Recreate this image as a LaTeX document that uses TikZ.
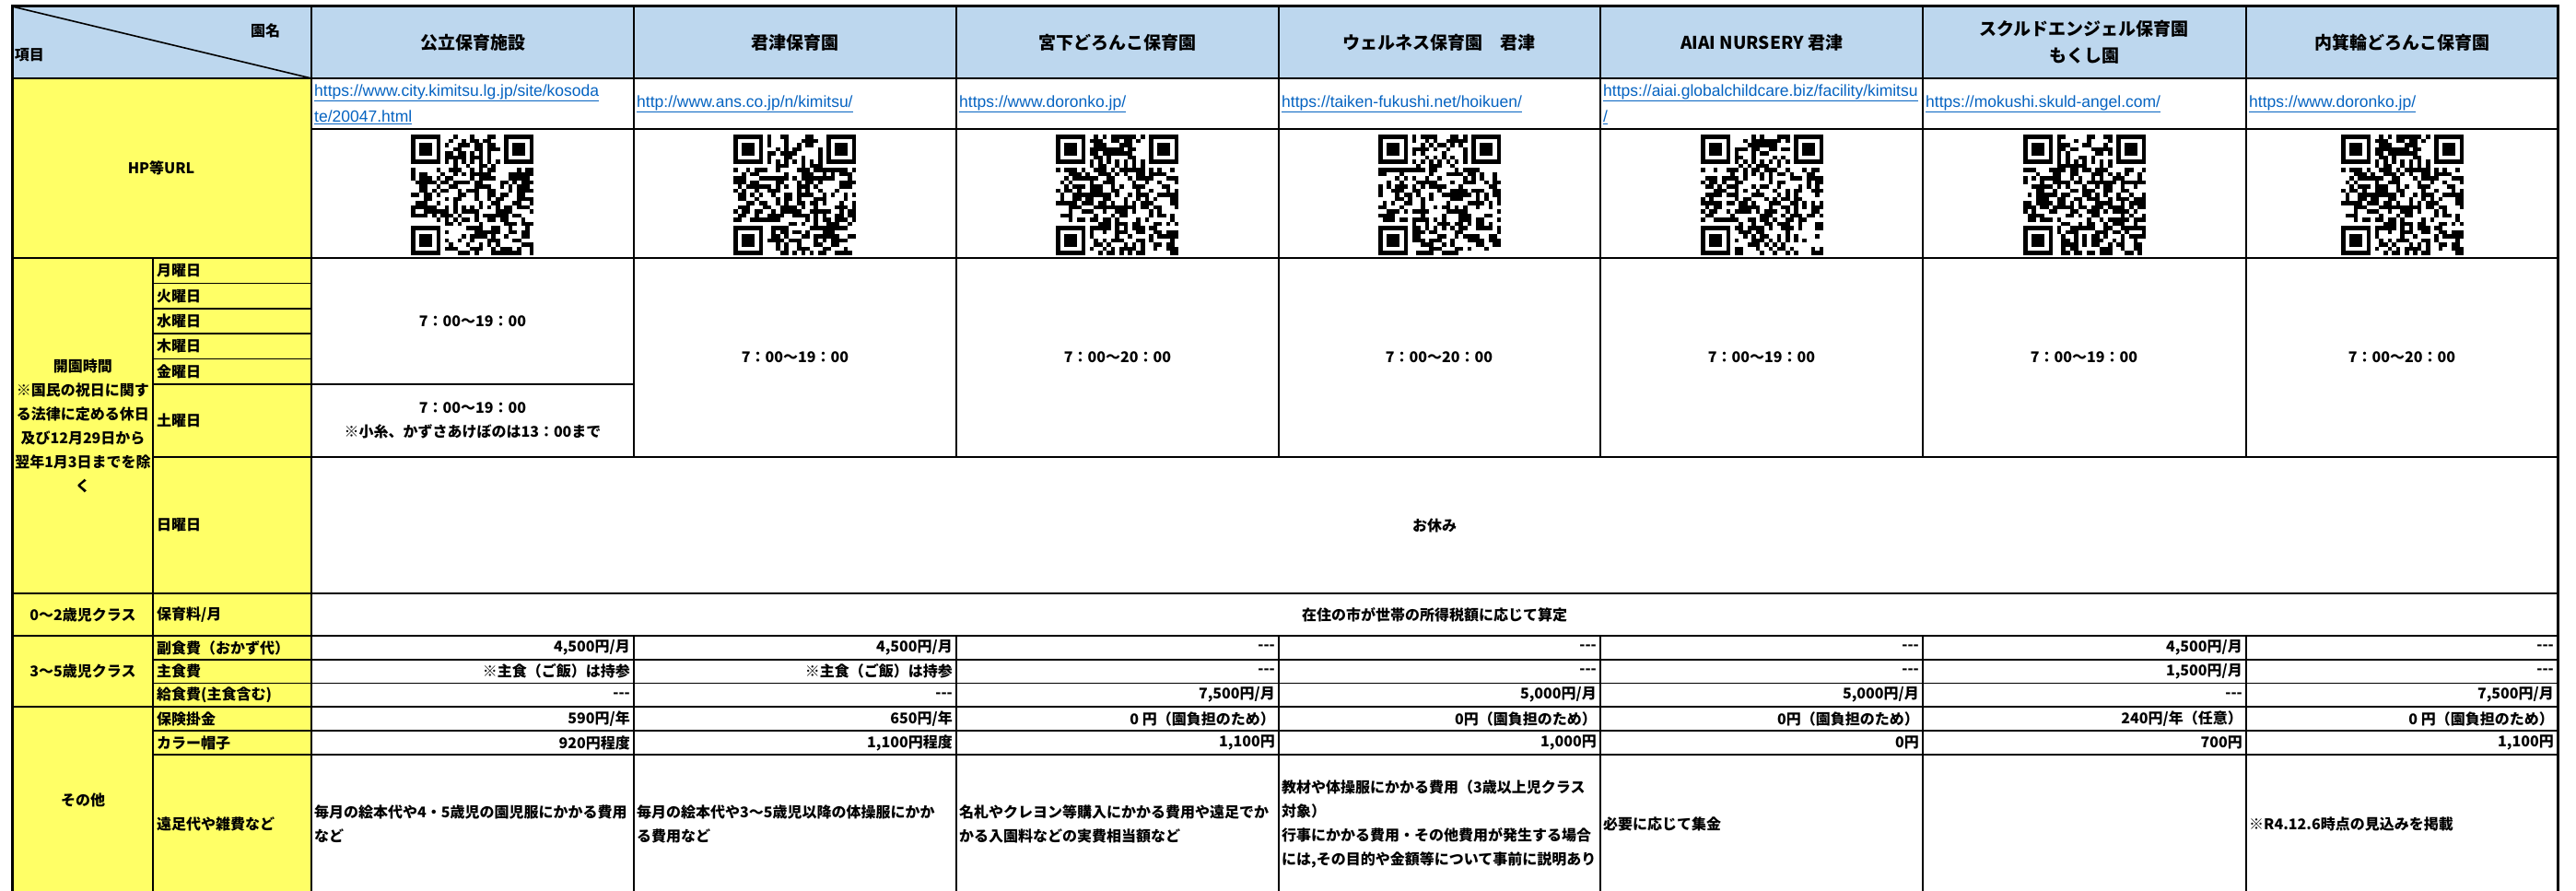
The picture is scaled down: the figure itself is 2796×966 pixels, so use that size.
\documentclass[tikz,border=0pt]{standalone}
\usepackage{fontspec}
\setmainfont{Noto Sans CJK JP}
\newfontfamily\jp{Noto Sans CJK JP}
\newfontfamily\linkfont{Liberation Sans}
\usepackage{xcolor}
\usepackage{tikz}

% QR-like block, 29 x 29 modules, top left corner at #1, pattern from seed #2
\newcommand\qrblock[2]{%
  \begin{scope}[shift={#1}, x=4.6pt, y=-4.5pt]
    \pgfmathsetseed{#2}
    \foreach \i in {0,...,28} {
      \foreach \j in {0,...,28} {
        \pgfmathtruncatemacro\qrskip{and(\i<8,\j<8)+and(\i>20,\j<8)+and(\i<8,\j>20)+(\i==6)+(\j==6)}
        \ifnum\qrskip=0
          \pgfmathrandominteger{\qrbit}{0}{1}
          \ifnum\qrbit=1 \fill (\i,\j) rectangle ++(1,1); \fi
        \fi
      }
    }
    \foreach \k in {8,10,...,20} {
      \fill (\k,6) rectangle ++(1,1);
      \fill (6,\k) rectangle ++(1,1);
    }
    \foreach \cx/\cy in {0/0, 22/0, 0/22} {
      \fill (\cx,\cy) rectangle ++(7,7);
      \fill[white] (\cx+1,\cy+1) rectangle ++(5,5);
      \fill (\cx+2,\cy+2) rectangle ++(3,3);
    }
  \end{scope}}

\begin{document}
\begin{tikzpicture}[
    x=1pt, y=-1pt,
    grid/.style={line width=1.6pt},
    frame/.style={line width=3pt},
    hd/.style={font=\jp\bfseries\fontsize{19}{29}\selectfont, align=center, inner sep=0pt},
    grp/.style={font=\jp\bfseries\fontsize{16}{26}\selectfont, align=center, inner sep=0pt},
    lbl/.style={font=\jp\bfseries\fontsize{16}{26}\selectfont, anchor=west, inner sep=0pt},
    fee/.style={font=\jp\bfseries\fontsize{16}{26}\selectfont, anchor=east, inner sep=0pt},
    memo/.style={font=\jp\bfseries\fontsize{16}{26}\selectfont, anchor=west, align=left, inner sep=0pt},
    link/.style={font=\linkfont\fontsize{17.5}{28}\selectfont, text=linkblue, anchor=west, align=left, inner sep=0pt},
]

% ── Colors ──
\definecolor{headfill}{HTML}{BDD7EE}
\definecolor{itemfill}{HTML}{FFFF66}
\definecolor{linkblue}{HTML}{0563C1}

\useasboundingbox (0,0) rectangle (2796,966);

% ══════════════════════════════════════════════
% Cell fills
% ══════════════════════════════════════════════
\fill[headfill] (13,7) rectangle (2776,85);
\fill[itemfill] (13,85) rectangle (338,975);

% ══════════════════════════════════════════════
% ROW 1: Nursery names
% ══════════════════════════════════════════════
\node[grp] (corner1) at (288,33) {園名};
\node[grp] (corner2) at (32,60) {項目};
\foreach \cx/\name [count=\c] in {513/公立保育施設, 863/君津保育園, 1213/宮下どろんこ保育園,
    1562/ウェルネス保育園　君津, 1912/AIAI NURSERY 君津,
    2262/{スクルドエンジェル保育園\\もくし園}, 2607/内箕輪どろんこ保育園}
  \node[hd] (hd\c) at (\cx,46) {\name};

% ══════════════════════════════════════════════
% ROW 2: Home pages and QR codes
% ══════════════════════════════════════════════
\node[grp] (hp) at (175,182) {HP等URL};
\node[link] (url1) at (341,113) {\underline{https://www.city.kimitsu.lg.jp/site/kosoda}\\\underline{te/20047.html}};
\node[link] (url2) at (691,113) {\underline{http://www.ans.co.jp/n/kimitsu/}};
\node[link] (url3) at (1041,113) {\underline{https://www.doronko.jp/}};
\node[link] (url4) at (1391,113) {\underline{https://taiken-fukushi.net/hoikuen/}};
\node[link] (url5) at (1740,113) {\underline{https://aiai.globalchildcare.biz/facility/kimitsu}\\\underline{/}};
\node[link] (url6) at (2090,113) {\underline{https://mokushi.skuld-angel.com/}};
\node[link] (url7) at (2441,113) {\underline{https://www.doronko.jp/}};

\qrblock{(446,146)}{11}
\qrblock{(796,146)}{23}
\qrblock{(1146,146)}{37}
\qrblock{(1496,146)}{41}
\qrblock{(1846,146)}{53}
\qrblock{(2196,146)}{67}
\qrblock{(2541,146)}{37}

% ══════════════════════════════════════════════
% ROW 3: Opening hours
% ══════════════════════════════════════════════
\node[grp] (open) at (90,462) {開園時間\\※国民の祝日に関す\\る法律に定める休日\\及び12月29日から\\翌年1月3日までを除\\く};
\foreach \y/\t [count=\c] in {293.7/月曜日, 321.1/火曜日, 348.5/水曜日, 375.9/木曜日,
    403.3/金曜日, 456.5/土曜日, 570/日曜日}
  \node[lbl] (day\c) at (170,\y) {\t};

\node[grp] (hr1) at (513,349) {7：00～19：00};
\node[grp] (sat1) at (513,456.5) {7：00～19：00\\※小糸、かずさあけぼのは13：00まで};
\foreach \cx/\t [count=\c from 2] in {863/19, 1213/20, 1562/20, 1912/19, 2262/19, 2607/20}
  \node[grp] (hr\c) at (\cx,388) {7：00～\t：00};
\node[grp] (sun) at (1557,570) {お休み};

% ══════════════════════════════════════════════
% ROW 4: Fees
% ══════════════════════════════════════════════
\node[grp] (age02) at (90,667) {0～2歳児クラス};
\node[lbl] (fee02) at (170,667) {保育料/月};
\node[grp] (tax) at (1557,667) {在住の市が世帯の所得税額に応じて算定};

\node[grp] (age35) at (90,728.5) {3～5歳児クラス};
\node[lbl] (side) at (170,703) {副食費（おかず代）};
\node[lbl] (rice) at (170,728.7) {主食費};
\node[lbl] (meal) at (170,754.3) {給食費(主食含む)};

\foreach \rx/\v [count=\c] in {688/{4,500円/月}, 1038/{4,500円/月}, 1388/---, 1737/---,
    2087/---, 2438/{4,500円/月}, 2776/---}
  \node[fee] (side\c) at (\rx-4,703) {\v};
\foreach \rx/\v [count=\c] in {688/※主食（ご飯）は持参, 1038/※主食（ご飯）は持参, 1388/---,
    1737/---, 2087/---, 2438/{1,500円/月}, 2776/---}
  \node[fee] (rice\c) at (\rx-4,728.7) {\v};
\foreach \rx/\v [count=\c] in {688/---, 1038/---, 1388/{7,500円/月}, 1737/{5,000円/月},
    2087/{5,000円/月}, 2438/---, 2776/{7,500円/月}}
  \node[fee] (meal\c) at (\rx-4,754.3) {\v};

% ══════════════════════════════════════════════
% ROW 5: Other costs
% ══════════════════════════════════════════════
\node[grp] (misc) at (90,868) {その他};
\node[lbl] (ins) at (170,780) {保険掛金};
\node[lbl] (cap) at (170,806) {カラー帽子};
\node[lbl] (trip) at (170,894) {遠足代や雑費など};

\foreach \rx/\v [count=\c] in {688/{590円/年}, 1038/{650円/年}, 1388/0 円（園負担のため）,
    1737/0円（園負担のため）, 2087/0円（園負担のため）, 2438/{240円/年（任意）},
    2776/0 円（園負担のため）}
  \node[fee] (ins\c) at (\rx-4,780) {\v};
\foreach \rx/\v [count=\c] in {688/920円程度, 1038/{1,100円程度}, 1388/{1,100円},
    1737/{1,000円}, 2087/0円, 2438/700円, 2776/{1,100円}}
  \node[fee] (cap\c) at (\rx-4,806) {\v};

\node[memo] (trip1) at (341,894) {毎月の絵本代や4・5歳児の園児服にかかる費用\\など};
\node[memo] (trip2) at (691,894) {毎月の絵本代や3～5歳児以降の体操服にかか\\る費用など};
\node[memo] (trip3) at (1041,894) {名札やクレヨン等購入にかかる費用や遠足でか\\かる入園料などの実費相当額など};
\node[memo] (trip4) at (1391,894) {教材や体操服にかかる費用（3歳以上児クラス\\対象）\\行事にかかる費用・その他費用が発生する場合\\には,その目的や金額等について事前に説明あり};
\node[memo] (trip5) at (1740,894) {必要に応じて集金};
\node[memo] (trip7) at (2441,894) {※R4.12.6時点の見込みを掲載};

% ══════════════════════════════════════════════
% Grid lines
% ══════════════════════════════════════════════
\draw[grid] (13,85) -- (2776,85);
\draw[grid] (338,140) -- (2776,140);
\draw[grid] (13,280) -- (2776,280);
\foreach \y in {307.4,334.8,362.2,389.6}
  \draw[grid] (166,\y) -- (338,\y);
\draw[grid] (166,417) -- (688,417);
\draw[grid] (166,496) -- (2776,496);
\draw[grid] (13,644) -- (2776,644);
\draw[grid] (13,690) -- (2776,690);
\foreach \y in {716,741.5,793,819}
  \draw[grid] (166,\y) -- (2776,\y);
\draw[grid] (13,767) -- (2776,767);
\draw[grid] (166,280) -- (166,975);
\draw[grid] (338,7) -- (338,975);
\foreach \x in {688,1038,1388,1737,2087,2438} {
  \draw[grid] (\x,7) -- (\x,496);
  \draw[grid] (\x,690) -- (\x,975);
}
\draw[grid] (13,7) -- (338,85);
\draw[frame] (13,975) -- (13,7) -- (2776,7) -- (2776,975);

\end{tikzpicture}
\end{document}
